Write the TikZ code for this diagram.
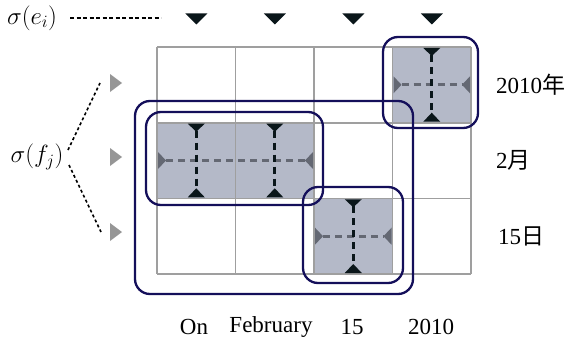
\documentclass[tikz,border=0pt]{standalone}
\usepackage{fontspec}
\setmainfont{Liberation Serif}
\newfontfamily\cjk{Noto Sans CJK JP}
\begin{document}
\begin{tikzpicture}[x=1pt,y=-1pt,
  gridline/.style={draw=gray!75, line width=1.6pt},
  vdash/.style={draw=tipdark, line width=3pt, dash pattern=on 7pt off 5pt},
  hdash/.style={draw=tipgray, line width=3pt, dash pattern=on 7pt off 5pt},
  group/.style={draw=navy, line width=2.3pt, rounded corners=15pt},
  lab/.style={inner sep=0pt, font=\fontsize{23}{27}\selectfont},
  mlab/.style={inner sep=0pt, font=\fontsize{24}{28}\selectfont},
  outdash/.style={draw=black, line width=1.6pt, dash pattern=on 4pt off 2.5pt},
  outdot/.style={draw=black, line width=1.6pt, dash pattern=on 3pt off 2.5pt}
]
\definecolor{cellcol}{RGB}{180,185,200}
\definecolor{navy}{RGB}{20,15,90}
\definecolor{tipdark}{RGB}{10,22,26}
\definecolor{tipgray}{RGB}{100,104,115}
\definecolor{outgray}{RGB}{150,150,150}
\useasboundingbox (0,0) rectangle (570,345);
% shaded cells
\fill[cellcol] (392.5,47) rectangle (471,122.7);
\fill[cellcol] (157,122.7) rectangle (314,198.3);
\fill[cellcol] (314,198.3) rectangle (392.5,274);
% grid
\foreach \x in {157,235.5,314,392.5,471} \draw[gridline] (\x,47) -- (\x,274);
\foreach \y in {47,122.7,198.3,274} \draw[gridline] (157,\y) -- (471,\y);
% horizontal gray dashes with tips
\draw[hdash] (401.5,84.8) -- (462,84.8);
\draw[hdash] (166,160.5) -- (305,160.5);
\draw[hdash] (323,236.2) -- (383.5,236.2);
\foreach \a/\b/\c in {392.5/471/84.8, 157/314/160.5, 314/392.5/236.2}{
  \fill[tipgray] (\a+1,\c-8.5) -- (\a+9,\c) -- (\a+1,\c+8.5) -- cycle;
  \fill[tipgray] (\b-1,\c-8.5) -- (\b-9,\c) -- (\b-1,\c+8.5) -- cycle;
}
% vertical black dashes with tips
\foreach \cx/\a/\b in {431.75/47/122.7, 196.25/122.7/198.3, 274.75/122.7/198.3, 353.25/198.3/274}{
  \draw[vdash] (\cx,\a+8) -- (\cx,\b-8);
  \fill[tipdark] (\cx-8.5,\a+1) -- (\cx+8.5,\a+1) -- (\cx,\a+9) -- cycle;
  \fill[tipdark] (\cx-8.5,\b-1) -- (\cx+8.5,\b-1) -- (\cx,\b-10) -- cycle;
}
% groups
\draw[group] (383,37) rectangle (478,128);
\draw[group] (146,112) rectangle (323,205);
\draw[group] (303,187) rectangle (403,283);
\draw[group] (135,101) rectangle (413,294);
% top triangles
\foreach \cx in {196.25,274.75,353.25,431.75}
  \fill[tipdark] (\cx-11,13.5) -- (\cx+11,13.5) -- (\cx,24.5) -- cycle;
% left triangles
\foreach \cy in {83,157,232}
  \fill[outgray] (110,\cy-9) -- (122,\cy) -- (110,\cy+9) -- cycle;
% labels
\node[mlab] (se) at (32,18) {$\sigma(e_i)$};
\coordinate (seend) at (161,18);
\draw[outdash] (70,18) -- (seend);
\node[mlab] (sf) at (37,157) {$\sigma(f_j)$};
\coordinate (sft) at (100,83);
\coordinate (sfb) at (101,232);
\draw[outdot] (68,150) -- (sft);
\draw[outdot] (69,165) -- (sfb);
\node[lab, anchor=west] (r1) at (496,85) {2010{\cjk 年}};
\node[lab, anchor=west] (r2) at (496,160) {2{\cjk 月}};
\node[lab, anchor=west] (r3) at (498,236) {15{\cjk 日}};
\node[lab] (b1) at (194,327) {On};
\node[lab] (b2) at (271,327) {February};
\node[lab] (b3) at (352,327) {15};
\node[lab] (b4) at (431,327) {2010};
\end{tikzpicture}
\end{document}
